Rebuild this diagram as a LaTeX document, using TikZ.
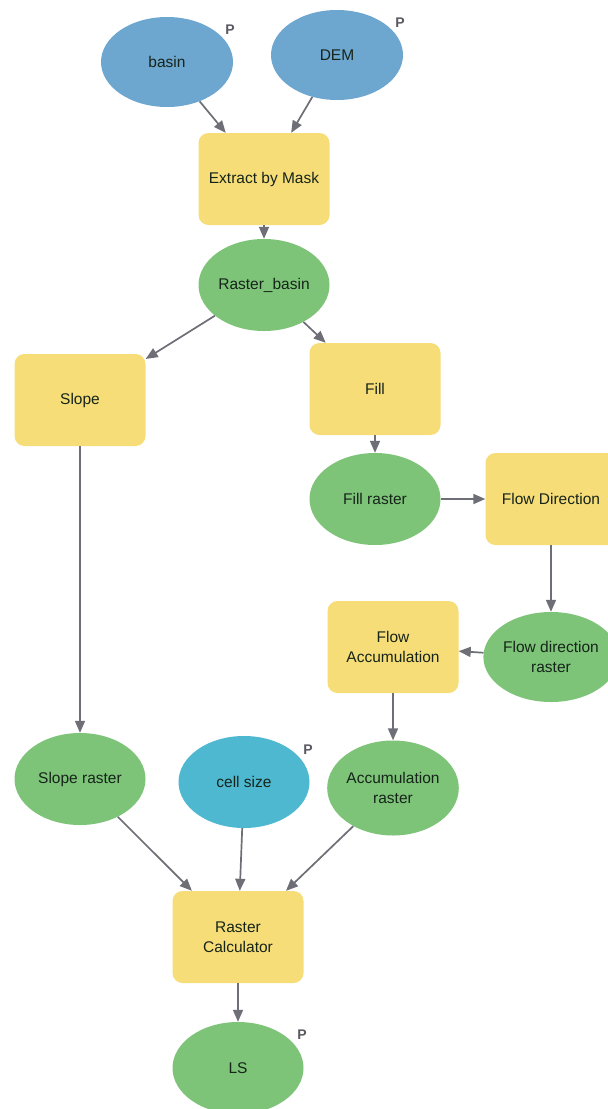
\documentclass[tikz,border=0pt]{standalone}
\usepackage{fontspec}
\setmainfont{Liberation Sans}
\usetikzlibrary{shapes.geometric,arrows.meta}
\definecolor{cblue}{HTML}{6DA7CF}
\definecolor{ccyan}{HTML}{4DB8D0}
\definecolor{cgreen}{HTML}{7DC478}
\definecolor{cyellow}{HTML}{F6DD78}
\definecolor{ctext}{HTML}{16241A}
\definecolor{carrow}{HTML}{6E6E76}
\definecolor{cp}{HTML}{5A5A62}
\tikzset{
  base/.style={inner sep=0pt, align=center, text=ctext, font=\fontsize{15.5}{19.5}\selectfont},
  datablue/.style={base, ellipse, fill=cblue, minimum width=132pt, minimum height=90pt},
  datacyan/.style={base, ellipse, fill=ccyan, minimum width=131pt, minimum height=92pt},
  datagreen/.style={base, ellipse, fill=cgreen, minimum width=131pt, minimum height=92pt},
  tool/.style={base, rectangle, rounded corners=10pt, fill=cyellow, minimum width=131pt, minimum height=92pt},
  plabel/.style={inner sep=0pt, text=cp, font=\bfseries\fontsize{14}{14}\selectfont},
  arr/.style={draw=carrow, line width=1.7pt, -{Triangle[length=12pt,width=10pt]}}
}
\begin{document}
\begin{tikzpicture}[x=1pt,y=-1pt]
\useasboundingbox[fill=white] (0,0) rectangle (608,1109);
\node[datablue] (basin) at (167,62) {basin};
\node[datablue] (dem) at (337,55) {DEM};
\node[plabel] (pbasin) at (230,30) {P};
\node[plabel] (pdem) at (400,23) {P};
\node[tool] (extract) at (264,179) {Extract by Mask};
\node[datagreen] (rbasin) at (264,285) {Raster\_basin};
\node[tool] (slope) at (80,400) {Slope};
\node[tool] (fill) at (375,389) {Fill};
\node[datagreen] (fillr) at (375,499) {Fill raster};
\node[tool] (fdir) at (551,499) {Flow Direction};
\node[datagreen, minimum width=122pt, minimum height=90pt] (fdirr) at (551,657) {Flow direction\\raster};
\node[tool] (facc) at (393,647) {Flow\\Accumulation};
\node[datagreen] (sloper) at (80,779) {Slope raster};
\node[datacyan] (cell) at (244,782) {cell size};
\node[plabel] (pcell) at (308,750) {P};
\node[datagreen, minimum height=95pt] (accr) at (393,788) {Accumulation\\raster};
\node[tool] (rcalc) at (238,937) {Raster\\Calculator};
\node[datagreen] (ls) at (238,1068) {LS};
\node[plabel] (pls) at (302,1035) {P};

\draw[arr] (basin) -- (extract);
\draw[arr] (dem) -- (extract);
\draw[arr] (extract) -- (rbasin);
\draw[arr] (rbasin) -- (slope);
\draw[arr] (rbasin) -- (fill);
\draw[arr] (fill) -- (fillr);
\draw[arr] (fillr) -- (fdir);
\draw[arr] (fdir) -- (fdirr);
\draw[arr] (fdirr) -- (facc);
\draw[arr] (facc) -- (accr);
\draw[arr] (slope) -- (sloper);
\draw[arr] (sloper) -- (rcalc);
\draw[arr] (cell) -- (rcalc);
\draw[arr] (accr) -- (rcalc);
\draw[arr] (rcalc) -- (ls);
\end{tikzpicture}
\end{document}
